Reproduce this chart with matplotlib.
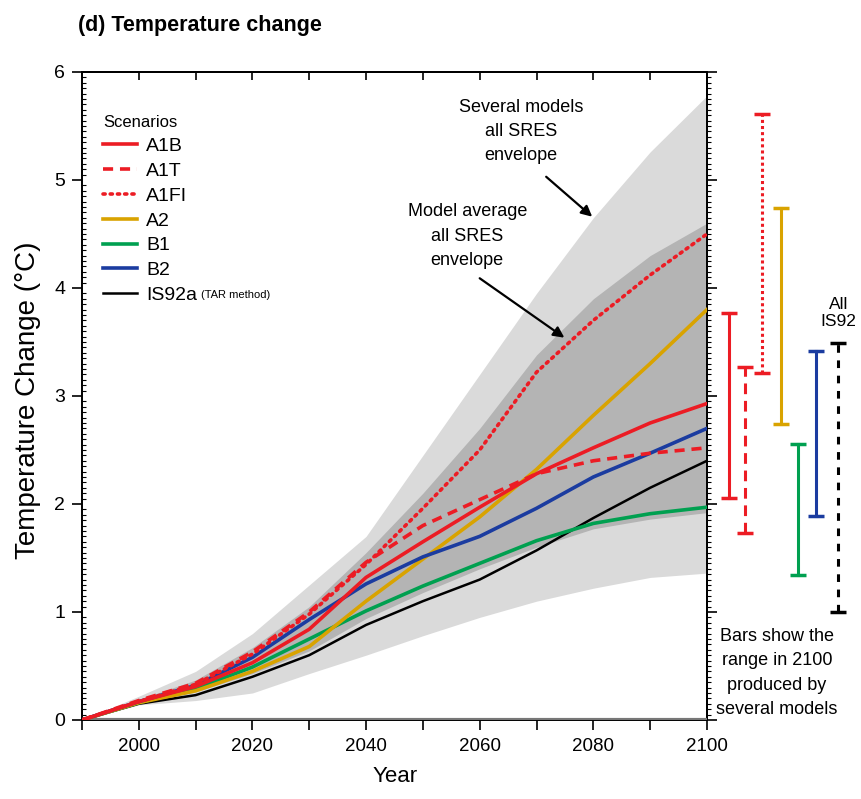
import matplotlib
matplotlib.use("Agg")
import matplotlib.pyplot as plt
from matplotlib import font_manager
from matplotlib.ticker import MultipleLocator

# model-average warming (deg C relative to 1990)
years = [1990, 2000, 2010, 2020, 2030, 2040, 2050, 2060, 2070, 2080, 2090, 2100]
a1b = [0, 0.17, 0.31, 0.53, 0.84, 1.32, 1.65, 1.97, 2.28, 2.52, 2.75, 2.93]
a1t = [0, 0.18, 0.34, 0.63, 1.00, 1.46, 1.80, 2.04, 2.28, 2.40, 2.47, 2.52]
a1fi = [0, 0.17, 0.33, 0.61, 0.98, 1.44, 1.96, 2.50, 3.22, 3.70, 4.12, 4.50]
a2 = [0, 0.16, 0.27, 0.45, 0.68, 1.10, 1.49, 1.88, 2.32, 2.82, 3.30, 3.80]
b1 = [0, 0.16, 0.29, 0.49, 0.75, 1.01, 1.24, 1.45, 1.66, 1.82, 1.91, 1.97]
b2 = [0, 0.17, 0.32, 0.58, 0.93, 1.26, 1.51, 1.70, 1.96, 2.25, 2.47, 2.70]
is92a = [0, 0.15, 0.23, 0.40, 0.60, 0.88, 1.10, 1.30, 1.57, 1.87, 2.15, 2.40]

# envelopes
several_hi = [0, 0.22, 0.45, 0.80, 1.25, 1.70, 2.45, 3.20, 3.95, 4.65, 5.26, 5.78]
several_lo = [0, 0.14, 0.18, 0.25, 0.43, 0.60, 0.78, 0.95, 1.10, 1.22, 1.32, 1.36]
average_hi = [0, 0.19, 0.37, 0.67, 1.05, 1.55, 2.10, 2.70, 3.38, 3.90, 4.30, 4.60]
average_lo = [0, 0.15, 0.26, 0.43, 0.64, 0.94, 1.18, 1.40, 1.60, 1.77, 1.86, 1.92]

# ranges in 2100 produced by several models
bar_names = ["A1B", "A1T", "A1FI", "A2", "B1", "B2", "IS92"]
bar_lo = [2.06, 1.73, 3.21, 2.74, 1.34, 1.89, 1.00]
bar_hi = [3.77, 3.27, 5.61, 4.74, 2.56, 3.42, 3.49]

RED = "#ec1c24"
GOLD = "#d9a300"
GREEN = "#00a050"
BLUE = "#1b3ca0"

names = {f.name for f in font_manager.fontManager.ttflist}
narrow = "Liberation Sans Narrow" if "Liberation Sans Narrow" in names else "Liberation Sans"
plt.rcParams["font.family"] = [narrow, "DejaVu Sans"]

fig = plt.figure(figsize=(8.61, 7.99), dpi=100)
ax = fig.add_axes([0.0952, 0.0989, 0.7259, 0.811])

ax.fill_between(years, several_lo, several_hi, color="#dadada", lw=0, zorder=1)
ax.fill_between(years, average_lo, average_hi, color="#b4b4b4", lw=0, zorder=2)
ax.axhline(0, color="#777777", lw=3, zorder=3)

lw = 2.6
ax.plot(years, is92a, color="black", lw=1.8, label="IS92a", zorder=5)
ax.plot(years, b1, color=GREEN, lw=lw, label="B1", zorder=5)
ax.plot(years, a2, color=GOLD, lw=lw, label="A2", zorder=5)
ax.plot(years, b2, color=BLUE, lw=lw, label="B2", zorder=6)
ax.plot(years, a1b, color=RED, lw=lw, label="A1B", zorder=6)
ax.plot(years, a1t, color=RED, lw=lw, dashes=(2.8, 1.9), label="A1T", zorder=7)
ax.plot(years, a1fi, color=RED, lw=lw, dashes=(0.6, 1.4), dash_capstyle="round",
        label="A1FI", zorder=7)

# bars to the right of the plot
bar_pos = [2103.9, 2106.7, 2109.7, 2113.0, 2116.0, 2119.2, 2123.0]
bar_col = [RED, RED, RED, GOLD, GREEN, BLUE, "black"]
bar_dash = [None, (3.5, 2.2), (1.0, 1.0), None, None, None, (2.5, 2.5)]
for x, lo, hi, c, d in zip(bar_pos, bar_lo, bar_hi, bar_col, bar_dash):
    ln, = ax.plot([x, x], [lo, hi], color=c, lw=2.2, clip_on=False)
    if d is not None:
        ln.set_dashes(d)
    ax.plot([x, x], [lo, hi], color=c, ls="none", marker="_", ms=11, mew=2.5,
            clip_on=False)

ax.set_xlim(1990, 2100)
ax.set_ylim(0, 6)
ax.xaxis.set_major_locator(MultipleLocator(20))
ax.xaxis.set_minor_locator(MultipleLocator(10))
ax.yaxis.set_major_locator(MultipleLocator(1))
ax.yaxis.set_minor_locator(MultipleLocator(0.05))
ax.tick_params(axis="x", which="both", direction="out", length=7, width=1.2,
               labelsize=13.5, pad=6)
ax.tick_params(axis="y", which="major", direction="out", length=7, width=1.2,
               labelsize=14, pad=5)
ax.tick_params(axis="y", which="minor", direction="in", length=3, width=0.8)
for s in ax.spines.values():
    s.set_linewidth(1.4)

sec_y = ax.secondary_yaxis("right")
sec_y.yaxis.set_major_locator(MultipleLocator(1))
sec_y.yaxis.set_minor_locator(MultipleLocator(0.05))
sec_y.tick_params(which="major", direction="out", length=7, width=1.2, labelright=False)
sec_y.tick_params(which="minor", direction="out", length=3, width=0.8)
sec_y.spines["right"].set_linewidth(1.4)

sec_x = ax.secondary_xaxis("top")
sec_x.xaxis.set_major_locator(MultipleLocator(10))
sec_x.tick_params(direction="in", length=6, width=1.2, labeltop=False)
sec_x.spines["top"].set_linewidth(1.4)

ax.set_xlabel("Year", fontsize=16)
ax.xaxis.label.set_va("center")
ax.xaxis.set_label_coords(0.5008, -0.087)
ax.set_ylabel("Temperature Change (°C)", fontsize=20, family=["Liberation Sans", "DejaVu Sans"])
ax.yaxis.label.set_va("center")
ax.yaxis.set_label_coords(-0.0864, 0.494)

fig.text(78 / 861, 1 - 31 / 799, "(d) Temperature change", fontsize=15.5,
         fontweight="bold", va="baseline", ha="left")

# legend
handles, labels = ax.get_legend_handles_labels()
order = ["A1B", "A1T", "A1FI", "A2", "B1", "B2", "IS92a"]
hmap = dict(zip(labels, handles))
leg = ax.legend([hmap[k] for k in order], order, title="Scenarios", loc="upper left",
                bbox_to_anchor=(0.034, 0.933), frameon=False, fontsize=14,
                title_fontsize=12, handlelength=1.75, handletextpad=0.45,
                labelspacing=0.37, borderpad=0, borderaxespad=0, alignment="left")
leg.set_zorder(10)

# annotations
ax.text(2067.3, 5.45, "Several models\nall SRES\nenvelope", ha="center", va="center",
        fontsize=13, linespacing=1.55)
ax.annotate("", xy=(2079.8, 4.66), xytext=(2071.7, 5.03),
            arrowprops=dict(arrowstyle="-|>", color="black", lw=1.6,
                            shrinkA=0, shrinkB=0, mutation_scale=16))
ax.text(2057.8, 4.48, "Model average\nall SRES\nenvelope", ha="center", va="center",
        fontsize=13, linespacing=1.55)
ax.annotate("", xy=(2074.9, 3.54), xytext=(2060.0, 4.09),
            arrowprops=dict(arrowstyle="-|>", color="black", lw=1.6,
                            shrinkA=0, shrinkB=0, mutation_scale=16))

ax.text(2123.2, 3.77, "All\nIS92", ha="center", va="center", fontsize=12.5,
        linespacing=1.2, clip_on=False)
ax.text(2112.3, 0.435, "Bars show the\nrange in 2100\nproduced by\nseveral models",
        ha="center", va="center", fontsize=13, linespacing=1.55, clip_on=False)

# small "(TAR method)" note right after the IS92a legend entry
fig.canvas.draw()
bb = leg.get_texts()[-1].get_window_extent()
fig.text((bb.x1 + 4) / fig.bbox.width, (bb.y0 + 4) / fig.bbox.height, "(TAR method)",
         fontsize=8, va="bottom", ha="left")

fig.savefig("out.png", dpi=100)
